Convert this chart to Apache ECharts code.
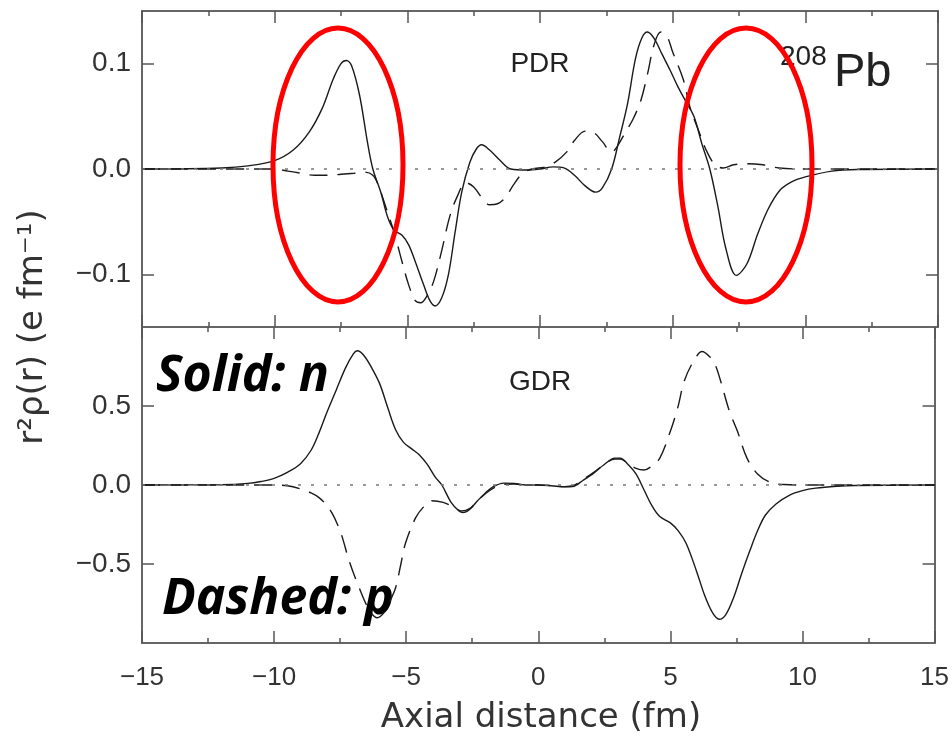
<!DOCTYPE html>
<html><head><meta charset="utf-8">
<script src="https://cdn.jsdelivr.net/npm/echarts@6/dist/echarts.min.js"></script>
<style>html,body{margin:0;padding:0;background:#fff}#c{width:952px;height:745px}</style>
</head><body><div id="c"></div>
<script>
// ---- data ----
const xRange = [-15, 15];
const pdrYTicks = [-0.1, 0, 0.1];
const gdrYTicks = [-0.5, 0, 0.5];

// PDR, neutrons (solid)
const pdrN_x = [-15,-12,-11,-10,-9.3,-8.7,-8.2,-7.8,-7.5,-7.3,-7.1,-6.8,-6.5,-6.3,-6.0,-5.75,-5.5,-5.2,-4.95,-4.7,-4.4,-4.15,-3.95,-3.7,-3.45,-3.2,-2.95,-2.65,-2.4,-2.2,-1.9,-1.5,-1.1,-0.5,0,0.5,0.9,1.3,1.7,2.1,2.35,2.7,3.0,3.3,3.6,3.85,4.05,4.3,4.6,4.9,5.2,5.5,5.8,6.1,6.4,6.7,7.0,7.4,7.8,8.2,8.6,9.05,9.5,10.0,11.0,12.0,15];
const pdrN_y = [0,0.001,0.003,0.008,0.018,0.035,0.058,0.085,0.1,0.103,0.098,0.07,0.025,0,-0.022,-0.045,-0.058,-0.063,-0.072,-0.088,-0.109,-0.125,-0.13,-0.122,-0.1,-0.06,-0.022,0.006,0.019,0.023,0.018,0.008,0,-0.001,0,0.002,0.001,-0.006,-0.016,-0.022,-0.018,0,0.03,0.062,0.105,0.125,0.13,0.124,0.109,0.094,0.078,0.064,0.05,0.024,0,-0.035,-0.075,-0.101,-0.09,-0.062,-0.038,-0.02,-0.012,-0.0075,-0.002,-0.0005,0];

// PDR, protons (dashed)
const pdrP_x = [-15,-10,-9.5,-9,-8.5,-8,-7.5,-7,-6.6,-6.3,-6.1,-5.8,-5.5,-5.2,-4.95,-4.7,-4.5,-4.25,-4.0,-3.7,-3.4,-3.1,-2.8,-2.5,-2.2,-1.9,-1.6,-1.3,-1.0,-0.65,-0.3,0.2,0.6,1.0,1.3,1.7,2.0,2.35,2.7,2.9,3.2,3.5,3.8,4.05,4.3,4.55,4.8,5.0,5.4,5.65,6.0,6.3,6.6,6.9,7.3,7.8,8.4,9.0,10,15];
const pdrP_y = [0,0,-0.002,-0.004,-0.006,-0.006,-0.005,-0.004,-0.003,-0.006,-0.015,-0.037,-0.06,-0.088,-0.11,-0.125,-0.127,-0.12,-0.106,-0.077,-0.045,-0.025,-0.013,-0.017,-0.027,-0.034,-0.033,-0.027,-0.015,-0.004,0,0.002,0.007,0.016,0.027,0.036,0.035,0.026,0.016,0.021,0.034,0.047,0.065,0.09,0.118,0.13,0.125,0.111,0.085,0.059,0.035,0.016,0.004,0.001,0.004,0.005,0.004,0.001,0,0];

// GDR, neutrons (solid)
const gdrN_x = [-15,-12,-11,-10.5,-10,-9.5,-9,-8.6,-8.3,-8,-7.65,-7.3,-7.0,-6.85,-6.6,-6.3,-6.0,-5.7,-5.4,-5.1,-4.8,-4.5,-4.2,-3.9,-3.65,-3.3,-3.0,-2.85,-2.6,-2.3,-2.0,-1.7,-1.3,-0.9,-0.5,0,0.5,1.0,1.3,1.7,2.1,2.5,2.9,3.1,3.4,3.7,4.0,4.3,4.6,5.0,5.3,5.6,6.0,6.3,6.6,6.85,7.1,7.4,7.7,8.0,8.3,8.6,9.0,9.5,10.0,10.5,11.3,12,15];
const gdrN_y = [0,0.002,0.01,0.022,0.042,0.08,0.135,0.22,0.33,0.46,0.6,0.74,0.83,0.85,0.82,0.74,0.64,0.49,0.35,0.27,0.23,0.19,0.13,0.05,0,-0.11,-0.165,-0.175,-0.155,-0.1,-0.05,-0.01,0.012,0.01,0,0,-0.005,-0.012,-0.01,0.03,0.075,0.13,0.17,0.17,0.13,0.07,-0.03,-0.13,-0.2,-0.24,-0.29,-0.37,-0.55,-0.7,-0.81,-0.85,-0.82,-0.71,-0.56,-0.42,-0.29,-0.19,-0.12,-0.065,-0.036,-0.02,-0.008,-0.003,0];

// GDR, protons (dashed)
const gdrP_x = [-15,-10,-9.5,-9,-8.6,-8.3,-8.0,-7.8,-7.6,-7.42,-7.16,-6.78,-6.4,-6.1,-5.8,-5.6,-5.4,-5.2,-5.03,-4.65,-4.35,-4.03,-3.6,-3.2,-2.9,-2.6,-2.3,-2.0,-1.7,-1.3,-0.9,-0.5,0,0.5,1.0,1.3,1.7,2.1,2.5,2.9,3.1,3.4,3.7,4.0,4.3,4.6,5.0,5.28,5.53,5.9,6.2,6.5,6.7,6.9,7.23,7.54,7.9,8.3,8.8,9.3,10,15];
const gdrP_y = [0,0,-0.005,-0.025,-0.05,-0.08,-0.13,-0.18,-0.25,-0.33,-0.48,-0.65,-0.79,-0.84,-0.8,-0.73,-0.65,-0.5,-0.37,-0.21,-0.14,-0.1,-0.11,-0.14,-0.165,-0.15,-0.1,-0.055,-0.02,0.005,0.006,0,0,-0.003,-0.01,-0.005,0.035,0.08,0.13,0.165,0.165,0.135,0.105,0.095,0.12,0.17,0.34,0.49,0.66,0.79,0.845,0.81,0.76,0.66,0.47,0.34,0.17,0.07,0.015,0.003,0,0];

// ---- chart ----
const zip = (xs, ys) => xs.map((x, i) => [x, ys[i]]);
const minus = v => (v < 0 ? '\u2212' : '') + Math.abs(v);
const fmt1 = v => (v < 0 ? '\u2212' : '') + Math.abs(v).toFixed(1);

const AX = '#666', TK = '#555', TXT = '#333';
const yFont = '"Liberation Sans Narrow", "Liberation Sans", sans-serif';

function xAxis(grid, pos, labels) {
  return {
    type: 'value', gridIndex: grid, position: pos, min: xRange[0], max: xRange[1], interval: 5,
    axisLine: { show: true, onZero: false, lineStyle: { color: AX, width: 2 } },
    axisTick: { show: true, inside: true, length: 12, lineStyle: { color: TK, width: 1.5 } },
    minorTick: { show: true, splitNumber: 2, length: 5, lineStyle: { color: TK, width: 1.5 } },
    splitLine: { show: false }, minorSplitLine: { show: false },
    axisLabel: { show: labels, formatter: minus, color: TXT, fontSize: 26, margin: 22, fontFamily: '"Liberation Sans", sans-serif' }
  };
}
function yAxis(grid, pos, min, max, ticks, labels) {
  return {
    type: 'value', gridIndex: grid, position: pos, min: min, max: max,
    axisLine: { show: true, onZero: false, lineStyle: { color: AX, width: 2 } },
    axisTick: { show: true, inside: true, length: 12, customValues: ticks, lineStyle: { color: TK, width: 1.5 } },
    splitLine: { show: false },
    axisLabel: { show: labels, customValues: ticks, formatter: fmt1, color: TXT, fontSize: 28, margin: 11, fontFamily: yFont }
  };
}
const zeroLine = {
  silent: true, symbol: ['none', 'none'], label: { show: false },
  lineStyle: { type: [3, 10], color: '#777', width: 1.5 },
  emphasis: { disabled: true },
  data: [{ yAxis: 0 }]
};
function line(name, xi, yi, data, dashed, withZero) {
  const s = {
    name, type: 'line', xAxisIndex: xi, yAxisIndex: yi, data, smooth: 0.35,
    showSymbol: false, symbol: 'none',
    lineStyle: { color: '#1a1a1a', width: 1.4, type: dashed ? [18, 10] : 'solid' },
    emphasis: { disabled: true }, z: 3
  };
  if (withZero) s.markLine = zeroLine;
  return s;
}
function txt(x, y, text, font, extra) {
  return Object.assign({
    type: 'text', x: x, y: y, silent: true,
    style: Object.assign({ text: text, font: font, fill: '#222', align: 'center', verticalAlign: 'middle', textAlign: 'center', textVerticalAlign: 'middle' }, extra || {})
  });
}

const chart = echarts.init(document.getElementById('c'), null, { renderer: 'canvas' });
chart.setOption({
  animation: false,
  backgroundColor: '#fff',
  grid: [
    { left: 142, top: 11, width: 796, height: 316 },
    { left: 142, top: 327, width: 796, height: 316 }
  ],
  xAxis: [xAxis(0, 'bottom', false), xAxis(0, 'top', false), xAxis(1, 'bottom', true), xAxis(1, 'top', false)],
  yAxis: [
    yAxis(0, 'left', -0.15, 0.15, pdrYTicks, true), yAxis(0, 'right', -0.15, 0.15, pdrYTicks, false),
    yAxis(1, 'left', -1, 1, gdrYTicks, true), yAxis(1, 'right', -1, 1, gdrYTicks, false)
  ],
  series: [
    line('PDR n', 0, 0, zip(pdrN_x, pdrN_y), false, true),
    line('PDR p', 0, 0, zip(pdrP_x, pdrP_y), true, false),
    line('GDR n', 2, 2, zip(gdrN_x, gdrN_y), false, true),
    line('GDR p', 2, 2, zip(gdrP_x, gdrP_y), true, false)
  ],
  graphic: [
    txt(540, 64, 'PDR', '28px ' + yFont),
    txt(540, 382, 'GDR', '28px ' + yFont),
    txt(780, 57, '208', '28px "Liberation Sans", sans-serif', { align: 'left', textAlign: 'left' }),
    txt(834, 73, 'Pb', '47px "Liberation Sans", sans-serif', { align: 'left', textAlign: 'left' }),
    txt(156, 377, 'Solid: n', 'italic bold 50px "Noto Sans", sans-serif', { align: 'left', textAlign: 'left', fill: '#000' }),
    txt(162, 600, 'Dashed: p', 'italic bold 50px "Noto Sans", sans-serif', { align: 'left', textAlign: 'left', fill: '#000' }),
    txt(541, 718, 'Axial distance (fm)', '34px "DejaVu Sans", sans-serif', { fill: '#333' }),
    Object.assign(txt(33, 327, 'r\u00B2\u03C1(r) (e fm\u207B\u00B9)', '34px "DejaVu Sans", sans-serif', { fill: '#333' }), { rotation: Math.PI / 2 }),
    { type: 'ellipse', silent: true, shape: { cx: 338, cy: 165, rx: 65, ry: 137 }, style: { fill: 'none', stroke: '#ff0000', lineWidth: 5 }, z: 10 },
    { type: 'ellipse', silent: true, shape: { cx: 746, cy: 165, rx: 66, ry: 137 }, style: { fill: 'none', stroke: '#ff0000', lineWidth: 5 }, z: 10 }
  ]
});
</script></body></html>
